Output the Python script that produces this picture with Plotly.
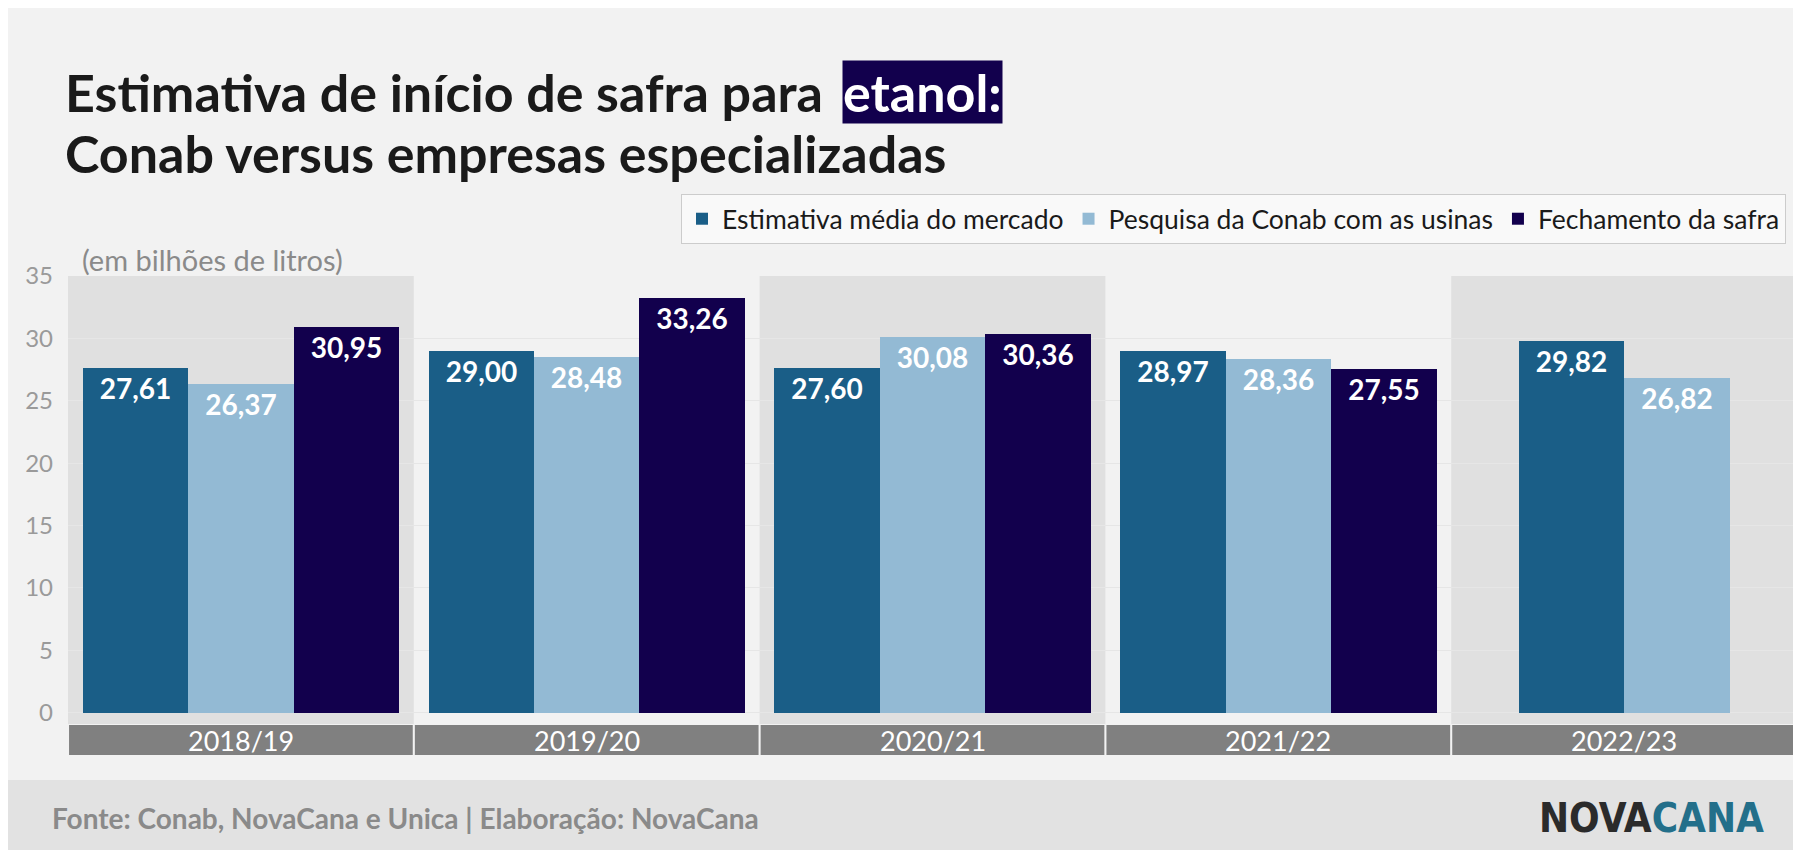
import plotly.graph_objects as go

categories = ["2018/19", "2019/20", "2020/21", "2021/22", "2022/23"]
series_names = ["Estimativa média do mercado", "Pesquisa da Conab com as usinas", "Fechamento da safra"]
mercado = [27.61, 29.00, 27.60, 28.97, 29.82]
conab = [26.37, 28.48, 30.08, 28.36, 26.82]
fechamento = [30.95, 33.26, 30.36, 27.55, None]
colors = ["#1a5e87", "#93bad4", "#12004d"]
y_ticks = [0, 5, 10, 15, 20, 25, 30, 35]

W, H = 1801, 850
PL, PR, PT, PB = 60, 1789, 268, 716
def py(p):  # pixel y -> paper y
    return (PB - p) / (PB - PT)
def px(p):
    return (p - PL) / (PR - PL)

series = [mercado, conab, fechamento]
bw = 0.305
fig = go.Figure()
for s, (name, vals) in enumerate(zip(series_names, series)):
    xs, ys, txt = [], [], []
    for i, v in enumerate(vals):
        if v is None:
            continue
        present = [k for k in range(len(series)) if series[k][i] is not None]
        n = len(present)
        pos = present.index(s)
        xs.append(i + (pos - (n - 1) / 2) * bw)
        ys.append(v)
        txt.append(f"{v:.2f}".replace(".", ","))
    fig.add_trace(go.Bar(
        x=xs, y=ys, width=bw, name=name, marker=dict(color=colors[s], line=dict(width=0)),
        text=txt, textposition="inside", insidetextanchor="end", textangle=0,
        textfont=dict(family="Lato", size=28, color="white", weight="bold"),
        cliponaxis=False, hoverinfo="skip"))

shapes = []
for i in range(len(categories)):
    if i % 2 == 0:
        shapes.append(dict(type="rect", xref="x", yref="paper", x0=i - 0.5, x1=i + 0.5,
                           y0=0, y1=1, fillcolor="#e0e0e0", line=dict(width=0), layer="below"))
    shapes.append(dict(type="rect", xref="x", yref="paper", x0=i - 0.5 + 0.003, x1=i + 0.5 - 0.003,
                       y0=py(717 + 30), y1=py(717), fillcolor="#808080", line=dict(width=0)))
shapes.append(dict(type="rect", xref="paper", yref="paper", x0=-0.1, x1=1.1,
                   y0=py(850), y1=py(772), fillcolor="#e2e2e2", line=dict(width=0)))

ann = []
for i, c in enumerate(categories):
    ann.append(dict(x=i, y=py(732), xref="x", yref="paper", text=c, showarrow=False,
                    font=dict(family="Lato", size=27, color="white"), yanchor="middle"))
for txt_, yy in [("<b>Estimativa de início de safra para</b>", 84),
                 ("<b>Conab versus empresas especializadas</b>", 145)]:
    ann.append(dict(x=px(55), y=py(yy), xref="paper", yref="paper", xanchor="left", yanchor="middle",
                    showarrow=False, text=txt_, font=dict(family="Lato", size=52, color="#1a1a1a")))
ann.append(dict(x=px(834), y=py(84), xref="paper", yref="paper", xanchor="left",
                yanchor="middle", showarrow=False, text="<b>etanol:</b>", bgcolor="#12004d",
                borderpad=0, font=dict(family="Lato", size=52, color="white")))
ann.append(dict(x=px(72), y=py(252), xref="paper", yref="paper", xanchor="left",
                yanchor="middle", showarrow=False, text="(em bilhões de litros)",
                font=dict(family="Lato", size=29, color="#8a8a8a")))
ann.append(dict(x=px(42), y=py(810), xref="paper", yref="paper", xanchor="left",
                yanchor="middle", showarrow=False,
                text="<b>Fonte: Conab, NovaCana e Unica | Elaboração: NovaCana</b>",
                font=dict(family="Lato", size=28, color="#8a8a8a")))
ann.append(dict(x=px(1758), y=py(810), xref="paper", yref="paper", xanchor="right",
                yanchor="middle", showarrow=False,
                text="<span style='color:#2b2b2b'>NOVA</span><span style='color:#236f8a'>CANA</span>",
                font=dict(family="Liberation Sans Narrow, DejaVu Sans Condensed", size=40, weight="bold")))

fig.update_layout(
    width=W, height=H, paper_bgcolor="#f2f2f2", plot_bgcolor="#f2f2f2",
    margin=dict(l=PL, r=W - PR, t=PT, b=H - PB),
    barmode="overlay", bargap=0,
    shapes=shapes, annotations=ann,
    legend=dict(orientation="h", x=px(1778), xanchor="right", y=py(186), yanchor="top",
                bgcolor="#f9f9f9", bordercolor="#cccccc", borderwidth=1,
                font=dict(family="Lato", size=26.5, color="#1a1a1a"), traceorder="normal"),
    xaxis=dict(range=[-0.5, len(categories) - 0.5], showticklabels=False, showgrid=False, zeroline=False, fixedrange=True),
    yaxis=dict(range=[-0.9, 35], tickvals=y_ticks, showgrid=True, gridcolor="#e6e6e6", zeroline=False,
               tickfont=dict(family="Lato", size=24, color="#9a9a9a"), ticklabelstandoff=14),
    showlegend=True,
)
fig.write_html("out.html")
